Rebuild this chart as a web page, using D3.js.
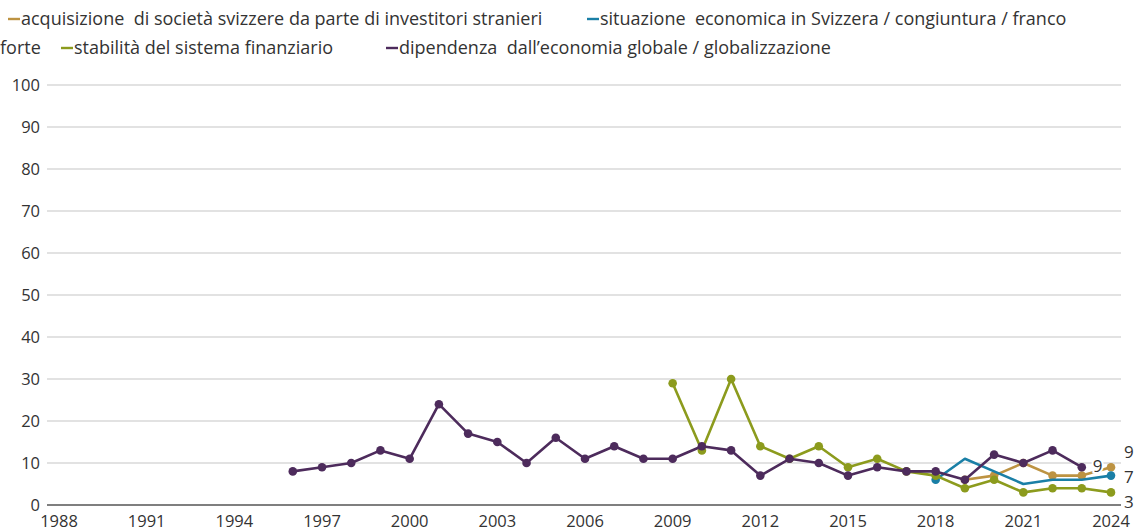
<!DOCTYPE html>
<html>
<head>
<meta charset="utf-8">
<script src="https://cdn.jsdelivr.net/npm/d3@7"></script>
<style>
  body { margin: 0; background: #fff; }
  svg text { font-family: "Open Sans", sans-serif; fill: #333; white-space: pre; }
</style>
</head>
<body>
<div id="chart"></div>
<script>
// data
var xTicks = [1988, 1991, 1994, 1997, 2000, 2003, 2006, 2009, 2012, 2015, 2018, 2021, 2024];
var yTicks = [0, 10, 20, 30, 40, 50, 60, 70, 80, 90, 100];

var acqYears = [2019, 2020, 2021, 2022, 2023, 2024];
var acqValues = [6, 7, 10, 7, 7, 9];

var sitYears = [2018, 2019, 2020, 2021, 2022, 2023, 2024];
var sitValues = [6, 11, 8, 5, 6, 6, 7];

var stabYears = d3.range(2009, 2025);
var stabValues = [29, 13, 30, 14, 11, 14, 9, 11, 8, 7, 4, 6, 3, 4, 4, 3];

var dipYears = d3.range(1996, 2024);
var dipValues = [8, 9, 10, 13, 11, 24, 17, 15, 10, 16, 11, 14, 11, 11, 14, 13, 7, 11, 10, 7, 9, 8, 8, 6, 12, 10, 13, 9];

var seriesNames = [
  "acquisizione  di società svizzere da parte di investitori stranieri",
  "situazione  economica in Svizzera / congiuntura / franco forte",
  "stabilità del sistema finanziario",
  "dipendenza  dall\u2019economia globale / globalizzazione"
];
var seriesColors = ["#bd9342", "#1a7fa6", "#8c9b1d", "#4d2b5c"];

// build series
var series = [
  {name: seriesNames[0], color: seriesColors[0], years: acqYears, values: acqValues, dots: "all"},
  {name: seriesNames[1], color: seriesColors[1], years: sitYears, values: sitValues, dots: "ends"},
  {name: seriesNames[2], color: seriesColors[2], years: stabYears, values: stabValues, dots: "all"},
  {name: seriesNames[3], color: seriesColors[3], years: dipYears, values: dipValues, dots: "all"}
].map(function(s) {
  s.points = s.years.map(function(yr, i) { return {year: yr, value: s.values[i]}; });
  return s;
});

var width = 1135, height = 532;

var svg = d3.select("#chart")
  .append("svg")
    .attr("width", width)
    .attr("height", height);

var x = d3.scaleLinear().domain([1988, 2024]).range([59, 1111]);
var y = d3.scaleLinear().domain([0, 100]).range([505, 85]);

var gridLeft = 47, gridRight = 1121;

// gridlines + y labels
svg.append("g")
  .selectAll("line")
  .data(yTicks)
  .enter()
  .append("line")
    .attr("x1", gridLeft)
    .attr("x2", gridRight)
    .attr("y1", function(d) { return y(d); })
    .attr("y2", function(d) { return y(d); })
    .attr("stroke", function(d) { return d === 0 ? "#555" : "#c6c6c6"; })
    .attr("stroke-width", function(d) { return d === 0 ? 1.6 : 1.2; });

svg.append("g")
  .selectAll("text")
  .data(yTicks)
  .enter()
  .append("text")
    .attr("x", 40)
    .attr("y", function(d) { return y(d); })
    .attr("dy", "0.36em")
    .attr("text-anchor", "end")
    .style("font-size", "16.5px")
    .text(function(d) { return d; });

// x labels
svg.append("g")
  .selectAll("text")
  .data(xTicks)
  .enter()
  .append("text")
    .attr("x", function(d) { return x(d); })
    .attr("y", 527)
    .attr("text-anchor", "middle")
    .style("font-size", "16.5px")
    .text(function(d) { return d; });

// lines
var line = d3.line()
  .x(function(d) { return x(d.year); })
  .y(function(d) { return y(d.value); });

var plot = svg.append("g");
series.forEach(function(s) {
  plot.append("path")
    .datum(s.points)
    .attr("fill", "none")
    .attr("stroke", s.color)
    .attr("stroke-width", 2.6)
    .attr("stroke-linejoin", "round")
    .attr("d", line);

  var dots = s.dots === "ends" ? [s.points[0], s.points[s.points.length - 1]] : s.points;
  plot.selectAll(null)
    .data(dots)
    .enter()
    .append("circle")
      .attr("cx", function(d) { return x(d.year); })
      .attr("cy", function(d) { return y(d.value); })
      .attr("r", 4.3)
      .attr("fill", s.color);
});

// end label for the series stopping at 2023
var dip = series[3], dipLast = dip.points[dip.points.length - 1];
svg.append("text")
  .attr("x", x(dipLast.year) + 11)
  .attr("y", y(dipLast.value) - 1)
  .attr("dy", "0.36em")
  .style("font-size", "17px")
  .style("stroke", "#fff")
  .style("stroke-width", 4)
  .style("paint-order", "stroke")
  .text(dipLast.value);

// end labels at 2024, spread so they do not overlap
var ends = series.filter(function(s) { return s.years[s.years.length - 1] === 2024; })
  .map(function(s) {
    var v = s.values[s.values.length - 1];
    return {value: v, y: y(v)};
  })
  .sort(function(a, b) { return a.y - b.y; });
var gap = 25;
for (var k = 0; k < 50; k++) {
  for (var i = 1; i < ends.length; i++) {
    var diff = ends[i].y - ends[i - 1].y;
    if (diff < gap) {
      var push = (gap - diff) / 2;
      ends[i].y += push;
      ends[i - 1].y -= push;
    }
  }
}
svg.append("g")
  .selectAll("text")
  .data(ends)
  .enter()
  .append("text")
    .attr("x", 1124)
    .attr("y", function(d) { return d.y - 2; })
    .attr("dy", "0.36em")
    .style("font-size", "17px")
    .text(function(d) { return d.value; });

// legend (flows over two lines, like the original)
var legend = svg.append("g").style("font-size", "18px");
function legendItem(px, py, color, label) {
  legend.append("line")
    .attr("x1", px).attr("x2", px + 12)
    .attr("y1", py - 6).attr("y2", py - 6)
    .attr("stroke", color).attr("stroke-width", 2.4);
  legend.append("text")
    .attr("x", px + 13)
    .attr("y", py)
    .text(label);
}
legendItem(8, 25, seriesColors[0], seriesNames[0]);
legendItem(587, 25, seriesColors[1], "situazione  economica in Svizzera / congiuntura / franco");
legend.append("text").attr("x", 0).attr("y", 54).text("forte");
legendItem(61, 54, seriesColors[2], seriesNames[2]);
legendItem(386, 54, seriesColors[3], seriesNames[3]);
</script>
</body>
</html>
